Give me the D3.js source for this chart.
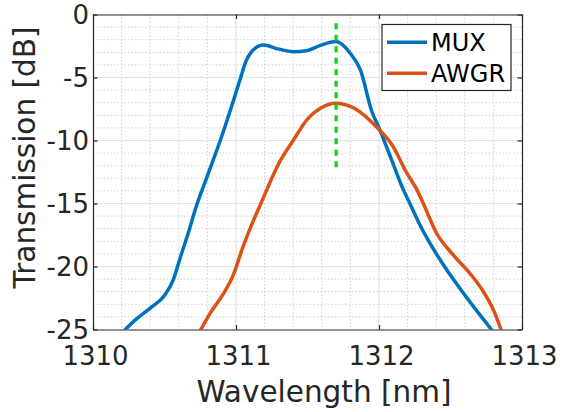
<!DOCTYPE html>
<html>
<head>
<meta charset="utf-8">
<script src="https://cdn.jsdelivr.net/npm/d3@7"></script>
<style>
  html, body { margin: 0; padding: 0; background: #fff; }
  svg { display: block; font-family: "DejaVu Sans", sans-serif; }
</style>
</head>
<body>
<svg id="chart" width="561" height="412"></svg>
<script>
// Measured transmission spectra: [wavelength nm, transmission dB]
const muxData = [
  [1310.20, -25.3], [1310.30, -24.2], [1310.40, -23.3], [1310.50, -22.3],
  [1310.56, -21.1], [1310.61, -19.3], [1310.67, -17.2], [1310.72, -15.3],
  [1310.80, -12.8], [1310.89, -10.0], [1310.98, -6.9], [1311.03, -5.1],
  [1311.07, -3.7], [1311.11, -2.95], [1311.19, -2.42], [1311.30, -2.75],
  [1311.40, -2.95], [1311.50, -2.85], [1311.59, -2.45], [1311.70, -2.15],
  [1311.80, -3.1], [1311.87, -4.4], [1311.95, -7.7], [1312.00, -9.0],
  [1312.08, -11.3], [1312.17, -13.9], [1312.22, -15.1], [1312.30, -17.0],
  [1312.38, -18.6], [1312.47, -20.2], [1312.57, -21.8], [1312.71, -23.9],
  [1312.80, -25.2]
];
const awgrData = [
  [1310.74, -25.3], [1310.82, -23.7], [1310.91, -22.2], [1310.98, -20.7],
  [1311.05, -18.4], [1311.12, -16.4], [1311.17, -15.1], [1311.31, -11.6],
  [1311.40, -10.0], [1311.50, -8.3], [1311.59, -7.45], [1311.70, -7.05],
  [1311.85, -7.6], [1311.98, -8.9], [1312.10, -10.5], [1312.19, -12.5],
  [1312.26, -13.8], [1312.31, -15.0], [1312.40, -17.3], [1312.52, -19.1],
  [1312.64, -20.6], [1312.73, -22.0], [1312.80, -23.45], [1312.86, -25.2]
];
// Centre-wavelength marker
const markerX = [1311.7];
const markerY = [-0.7, -12.2];

const seriesNames = ["MUX", "AWGR"];
const seriesColors = ["#0072BD", "#D95319"];

const xTicks = [1310, 1311, 1312, 1313];
const yTicks = [0, -5, -10, -15, -20, -25];
const xDomain = [1310, 1313];
const yDomain = [-25, 0];

const svg = d3.select("#chart");
const L = 93, R = 522, T = 14.5, B = 329.5;

const x = d3.scaleLinear().domain(xDomain).range([L, R]);
const y = d3.scaleLinear().domain(yDomain).range([B, T]);

const axisColor = "#262626";

// Minor grid (dotted)
const xMinor = d3.range(1310.2, 1313, 0.2).filter(v => Math.abs(v - Math.round(v)) > 1e-6);
const yMinor = d3.range(-24, 0, 1).filter(v => v % 5 !== 0);
const grid = svg.append("g");
grid.selectAll(".xm").data(xMinor).join("line")
  .attr("x1", d => x(d)).attr("x2", d => x(d)).attr("y1", T).attr("y2", B)
  .attr("stroke", "#d0d0d0").attr("stroke-width", 1).attr("stroke-dasharray", "1.5,2");
grid.selectAll(".ym").data(yMinor).join("line")
  .attr("x1", L).attr("x2", R).attr("y1", d => y(d)).attr("y2", d => y(d))
  .attr("stroke", "#d0d0d0").attr("stroke-width", 1).attr("stroke-dasharray", "1.5,2");
// Major grid (solid)
grid.selectAll(".xM").data(xTicks.slice(1, -1)).join("line")
  .attr("x1", d => x(d)).attr("x2", d => x(d)).attr("y1", T).attr("y2", B)
  .attr("stroke", "#e3e3e3").attr("stroke-width", 1.2);
grid.selectAll(".yM").data(yTicks.slice(1, -1)).join("line")
  .attr("x1", L).attr("x2", R).attr("y1", d => y(d)).attr("y2", d => y(d))
  .attr("stroke", "#e3e3e3").attr("stroke-width", 1.2);

// Clip for data
svg.append("clipPath").attr("id", "plotclip")
  .append("rect").attr("x", L).attr("y", T).attr("width", R - L).attr("height", B - T);

const line = d3.line().x(d => x(d[0])).y(d => y(d[1])).curve(d3.curveMonotoneX);
const plot = svg.append("g").attr("clip-path", "url(#plotclip)");
[muxData, awgrData].forEach((data, i) => {
  plot.append("path").datum(data)
    .attr("d", line)
    .attr("fill", "none")
    .attr("stroke", seriesColors[i])
    .attr("stroke-width", 3.5)
    .attr("stroke-linejoin", "round");
});

// Green dashed centre marker
plot.append("line")
  .attr("x1", x(markerX[0])).attr("x2", x(markerX[0]))
  .attr("y1", y(markerY[0])).attr("y2", y(markerY[1]))
  .attr("stroke", "#14d214").attr("stroke-width", 3.3)
  .attr("stroke-dasharray", "6,5.5");

// Axes (box with inward ticks)
const axB = svg.append("g").attr("transform", `translate(0,${B})`)
  .call(d3.axisBottom(x).tickValues(xTicks).tickSizeInner(-4.5).tickSizeOuter(0).tickFormat(d3.format("d")));
const axL = svg.append("g").attr("transform", `translate(${L},0)`)
  .call(d3.axisLeft(y).tickValues(yTicks).tickSizeInner(-4.5).tickSizeOuter(0).tickFormat(d => d === 0 ? "0" : "-" + Math.abs(d)));
const axT = svg.append("g").attr("transform", `translate(0,${T})`)
  .call(d3.axisTop(x).tickValues(xTicks).tickSizeInner(-4.5).tickSizeOuter(0).tickFormat(""));
const axR = svg.append("g").attr("transform", `translate(${R},0)`)
  .call(d3.axisRight(y).tickValues(yTicks).tickSizeInner(-4.5).tickSizeOuter(0).tickFormat(""));

[axB, axL, axT, axR].forEach(g => {
  g.select(".domain").attr("stroke", axisColor).attr("stroke-width", 1.2);
  g.selectAll(".tick line").attr("stroke", axisColor).attr("stroke-width", 1.2);
});
axB.selectAll(".tick text")
  .attr("font-family", "DejaVu Sans").attr("font-size", 26).attr("fill", axisColor)
  .attr("y", 17).attr("dy", "0.71em").attr("dx", 2);
axL.selectAll(".tick text")
  .attr("font-family", "DejaVu Sans").attr("font-size", 26).attr("fill", axisColor)
  .attr("x", -4).attr("dy", "0.36em");

// Axis titles
svg.append("text")
  .attr("x", 324).attr("y", 401.5)
  .attr("text-anchor", "middle")
  .attr("font-size", 29.5).attr("fill", axisColor)
  .text("Wavelength [nm]");
svg.append("text")
  .attr("transform", "translate(35,157.5) rotate(-90)")
  .attr("text-anchor", "middle")
  .attr("font-size", 29.5).attr("fill", axisColor)
  .text("Transmission [dB]");

// Legend
const leg = svg.append("g");
leg.append("rect")
  .attr("x", 382).attr("y", 24.5).attr("width", 129).attr("height", 66)
  .attr("fill", "#fff").attr("stroke", axisColor).attr("stroke-width", 1.2);
seriesNames.forEach((name, i) => {
  const ly = 42.3 + i * 31;
  leg.append("line")
    .attr("x1", 387).attr("x2", 427).attr("y1", ly).attr("y2", ly)
    .attr("stroke", seriesColors[i]).attr("stroke-width", 3.5);
  leg.append("text")
    .attr("x", 431).attr("y", ly).attr("dy", "0.36em")
    .attr("font-size", 24).attr("fill", "#000")
    .text(name);
});
</script>
</body>
</html>
